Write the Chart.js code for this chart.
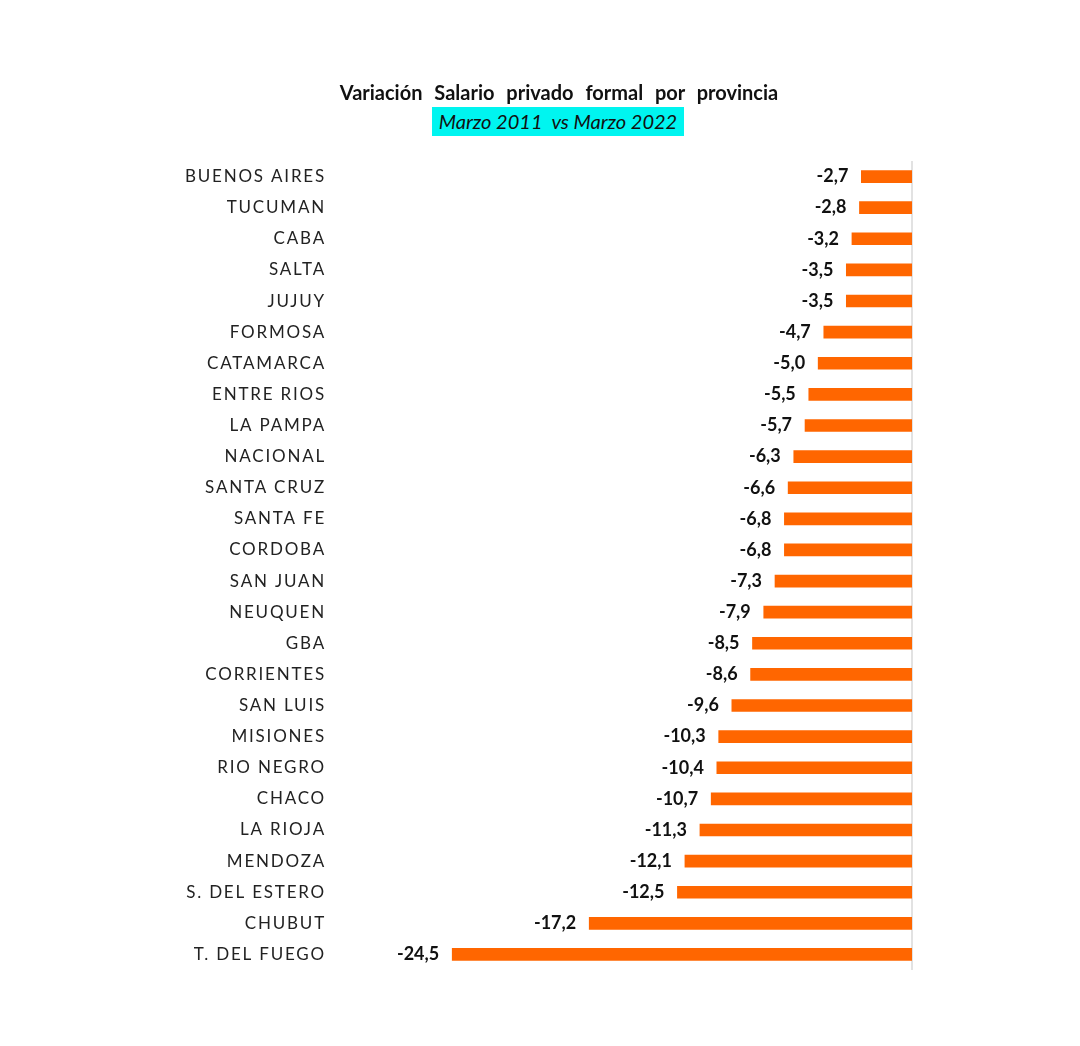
<!DOCTYPE html>
<html>
<head>
<meta charset="utf-8">
<script src="https://cdn.jsdelivr.net/npm/chart.js@4.4.1/dist/chart.umd.min.js"></script>
<style>
  html, body { margin: 0; padding: 0; background: #fff; }
  #wrap { position: relative; width: 1080px; height: 1046px; }
  #title { position: absolute; left: 0; width: 1118px; top: 80px; text-align: center;
    font-family: Lato, "Open Sans", sans-serif; font-weight: bold; font-size: 20px; color: #111; word-spacing: 7px; }
  #subtitle { position: absolute; left: 0; width: 1116px; top: 109px; text-align: center;
    font-family: Lato, "Open Sans", sans-serif; font-style: italic; font-size: 20px; color: #111; }
  #subtitle span { background: #00f5f0; padding: 2px 7px 3px 7px; }
  canvas { position: absolute; left: 0; top: 0; }
</style>
</head>
<body>
<div id="wrap">
  <canvas id="c" width="1080" height="1046"></canvas>
  <div id="title">Variación Salario privado formal por provincia</div>
  <div id="subtitle"><span>Marzo 2011&nbsp; vs Marzo 2022</span></div>
</div>
<script>
const provincias = ["BUENOS AIRES","TUCUMAN","CABA","SALTA","JUJUY","FORMOSA","CATAMARCA","ENTRE RIOS","LA PAMPA","NACIONAL","SANTA CRUZ","SANTA FE","CORDOBA","SAN JUAN","NEUQUEN","GBA","CORRIENTES","SAN LUIS","MISIONES","RIO NEGRO","CHACO","LA RIOJA","MENDOZA","S. DEL ESTERO","CHUBUT","T. DEL FUEGO"];
const variacion = [-2.7,-2.8,-3.2,-3.5,-3.5,-4.7,-5.0,-5.5,-5.7,-6.3,-6.6,-6.8,-6.8,-7.3,-7.9,-8.5,-8.6,-9.6,-10.3,-10.4,-10.7,-11.3,-12.1,-12.5,-17.2,-24.5];

const spacing = {
  id: 'spacing',
  beforeDraw(chart) { chart.ctx.letterSpacing = '1.8px'; },
  beforeDatasetsDraw(chart) { chart.ctx.letterSpacing = '0px'; }
};
const valueLabels = {
  id: 'valueLabels',
  afterDatasetsDraw(chart) {
    const ctx = chart.ctx;
    const meta = chart.getDatasetMeta(0);
    ctx.save();
    ctx.letterSpacing = '0px';
    ctx.font = 'bold 18px Lato, "Open Sans", sans-serif';
    ctx.fillStyle = '#111';
    ctx.textAlign = 'right';
    ctx.textBaseline = 'middle';
    meta.data.forEach((bar, i) => {
      const v = chart.data.datasets[0].data[i];
      ctx.fillText(v.toFixed(1).replace('.', ','), bar.x - 13, bar.y);
    });
    ctx.restore();
  }
};
const zeroLine = {
  id: 'zeroLine',
  beforeDatasetsDraw(chart) {
    const ctx = chart.ctx;
    const x = chart.scales.x.getPixelForValue(0);
    ctx.save();
    ctx.strokeStyle = '#d9d9d9';
    ctx.lineWidth = 1.5;
    ctx.beginPath();
    ctx.moveTo(x, chart.chartArea.top);
    ctx.lineTo(x, chart.chartArea.bottom);
    ctx.stroke();
    ctx.restore();
  }
};

new Chart(document.getElementById('c'), {
  type: 'bar',
  data: {
    labels: provincias,
    datasets: [{ data: variacion, backgroundColor: '#ff6600', barThickness: 12, borderSkipped: false }]
  },
  options: {
    indexAxis: 'y',
    responsive: false,
    animation: false,
    layout: { padding: { top: 161, bottom: 76, right: 168, left: 0 } },
    plugins: { legend: { display: false }, tooltip: { enabled: false } },
    scales: {
      x: { display: false, min: -30, max: 0 },
      y: {
        afterFit(scale) { scale.width = 349; },
        grid: { display: false, drawTicks: false },
        border: { display: false },
        ticks: { padding: 23, color: '#222', font: { family: 'Lato, "Open Sans", sans-serif', size: 17 } }
      }
    }
  },
  plugins: [spacing, valueLabels, zeroLine]
});
</script>
</body>
</html>
